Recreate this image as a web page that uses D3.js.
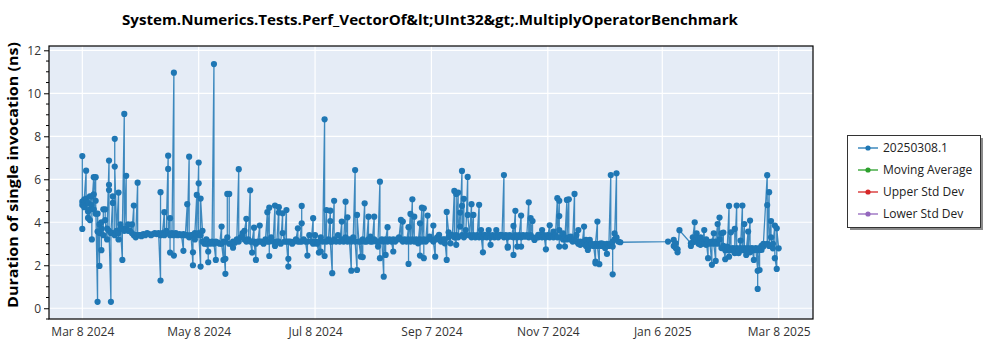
<!DOCTYPE html>
<html>
<head>
<meta charset="utf-8">
<script src="https://cdn.jsdelivr.net/npm/d3@7"></script>
<style>
  html, body { margin: 0; padding: 0; background: #ffffff; }
  svg { display: block; }
  text { font-family: "Open Sans", "Noto Sans", sans-serif; }
</style>
</head>
<body>
<div id="chart"></div>
<script>
// ---------------- data ----------------
const chartTitle = "System.Numerics.Tests.Perf_VectorOf&lt;UInt32&gt;.MultiplyOperatorBenchmark";
const yAxisTitle = "Duration of single invocation (ns)";
const legendLabels = ["20250308.1", "Moving Average", "Upper Std Dev", "Lower Std Dev"];
const legendColors = ["#1f77b4", "#2ca02c", "#d62728", "#9467bd"];
const xTickDates = ["2024-03-08", "2024-05-08", "2024-07-08", "2024-09-07", "2024-11-07", "2025-01-06", "2025-03-08"];
const yTickValues = [0, 2, 4, 6, 8, 10, 12];

// run dates (one entry per day with runs) and the durations measured that day (ns)
const runDates = [
  // Mar 2024
  "2024-03-08","2024-03-09","2024-03-10","2024-03-11","2024-03-12","2024-03-13","2024-03-14","2024-03-15",
  "2024-03-16","2024-03-17","2024-03-18","2024-03-19","2024-03-20","2024-03-21","2024-03-22","2024-03-23",
  "2024-03-24","2024-03-25","2024-03-26","2024-03-27","2024-03-28","2024-03-29","2024-03-30","2024-03-31",
  // Apr 2024
  "2024-04-01","2024-04-02","2024-04-03","2024-04-04","2024-04-05","2024-04-06","2024-04-07","2024-04-08",
  "2024-04-09","2024-04-10","2024-04-11","2024-04-12","2024-04-13","2024-04-14","2024-04-15","2024-04-16",
  "2024-04-17","2024-04-18","2024-04-19","2024-04-20","2024-04-21","2024-04-22","2024-04-23","2024-04-24",
  "2024-04-25","2024-04-26","2024-04-27","2024-04-28","2024-04-29","2024-04-30",
  // May 2024
  "2024-05-01","2024-05-02","2024-05-03","2024-05-04","2024-05-05","2024-05-06","2024-05-07","2024-05-08",
  "2024-05-09","2024-05-10","2024-05-11","2024-05-12","2024-05-13","2024-05-14","2024-05-15","2024-05-16",
  "2024-05-17","2024-05-18","2024-05-19","2024-05-20","2024-05-21","2024-05-22","2024-05-23","2024-05-24",
  "2024-05-25","2024-05-26","2024-05-27","2024-05-28","2024-05-29","2024-05-30","2024-05-31",
  // Jun 2024
  "2024-06-01","2024-06-02","2024-06-03","2024-06-04","2024-06-05","2024-06-06","2024-06-07","2024-06-08",
  "2024-06-09","2024-06-10","2024-06-11","2024-06-12","2024-06-13","2024-06-14","2024-06-15","2024-06-16",
  "2024-06-17","2024-06-18","2024-06-19","2024-06-20","2024-06-21","2024-06-22","2024-06-23","2024-06-24",
  "2024-06-25","2024-06-26","2024-06-27","2024-06-28","2024-06-29","2024-06-30",
  // Jul 2024
  "2024-07-01","2024-07-02","2024-07-03","2024-07-04","2024-07-05","2024-07-06","2024-07-07","2024-07-08",
  "2024-07-09","2024-07-10","2024-07-11","2024-07-12","2024-07-13","2024-07-14","2024-07-15","2024-07-16",
  "2024-07-17","2024-07-18","2024-07-19","2024-07-20","2024-07-21","2024-07-22","2024-07-23","2024-07-24",
  "2024-07-25","2024-07-26","2024-07-27","2024-07-28","2024-07-29","2024-07-30","2024-07-31",
  // Aug 2024
  "2024-08-01","2024-08-02","2024-08-03","2024-08-04","2024-08-05","2024-08-06","2024-08-07","2024-08-08",
  "2024-08-09","2024-08-10","2024-08-11","2024-08-12","2024-08-13","2024-08-14","2024-08-15","2024-08-16",
  "2024-08-17","2024-08-18","2024-08-19","2024-08-20","2024-08-21","2024-08-22","2024-08-23","2024-08-24",
  "2024-08-25","2024-08-26","2024-08-27","2024-08-28","2024-08-29","2024-08-30","2024-08-31",
  // Sep 2024
  "2024-09-01","2024-09-02","2024-09-03","2024-09-04","2024-09-05","2024-09-06","2024-09-07","2024-09-08",
  "2024-09-09","2024-09-10","2024-09-11","2024-09-12","2024-09-13","2024-09-14","2024-09-15","2024-09-16",
  "2024-09-17","2024-09-18","2024-09-19","2024-09-20","2024-09-21","2024-09-22","2024-09-23","2024-09-24",
  "2024-09-25","2024-09-26","2024-09-27","2024-09-28","2024-09-29","2024-09-30",
  // Oct 2024
  "2024-10-01","2024-10-02","2024-10-03","2024-10-04","2024-10-05","2024-10-06","2024-10-07","2024-10-08",
  "2024-10-09","2024-10-10","2024-10-11","2024-10-12","2024-10-13","2024-10-14","2024-10-15","2024-10-16",
  "2024-10-17","2024-10-18","2024-10-19","2024-10-20","2024-10-21","2024-10-22","2024-10-23","2024-10-24",
  "2024-10-25","2024-10-26","2024-10-27","2024-10-28","2024-10-29","2024-10-30","2024-10-31",
  // Nov 2024
  "2024-11-01","2024-11-02","2024-11-03","2024-11-04","2024-11-05","2024-11-06","2024-11-07","2024-11-08",
  "2024-11-09","2024-11-10","2024-11-11","2024-11-12","2024-11-13","2024-11-14","2024-11-15","2024-11-16",
  "2024-11-17","2024-11-18","2024-11-19","2024-11-20","2024-11-21","2024-11-22","2024-11-23","2024-11-24",
  "2024-11-25","2024-11-26","2024-11-27","2024-11-28","2024-11-29","2024-11-30",
  // Dec 2024
  "2024-12-01","2024-12-02","2024-12-03","2024-12-04","2024-12-05","2024-12-06","2024-12-07","2024-12-08",
  "2024-12-09","2024-12-10","2024-12-11","2024-12-12","2024-12-13","2024-12-14","2024-12-15",
  // Jan 2025
  "2025-01-09","2025-01-12","2025-01-13","2025-01-14","2025-01-15","2025-01-21","2025-01-22","2025-01-23",
  "2025-01-24","2025-01-25","2025-01-26","2025-01-27","2025-01-28","2025-01-29","2025-01-30","2025-01-31",
  // Feb 2025
  "2025-02-01","2025-02-02","2025-02-03","2025-02-04","2025-02-05","2025-02-06","2025-02-07","2025-02-08",
  "2025-02-09","2025-02-10","2025-02-11","2025-02-12","2025-02-13","2025-02-14","2025-02-15","2025-02-16",
  "2025-02-17","2025-02-18","2025-02-19","2025-02-20","2025-02-21","2025-02-22","2025-02-23","2025-02-24",
  "2025-02-25","2025-02-26","2025-02-27","2025-02-28",
  // Mar 2025
  "2025-03-02","2025-03-03","2025-03-04","2025-03-05","2025-03-06","2025-03-07","2025-03-08"
];

const runValues = [
  // Mar 2024
  [7.08,4.96,3.69,4.80],[4.70,5.05],[6.40,4.90,5.10],[4.20,4.90,4.50],[4.10,5.20,4.60],[5.20,3.20,4.80],[6.10,4.60,5.30],[6.10,4.40,5.00],
  [0.30,3.57,4.40],[1.97,3.90,3.50],[3.70,2.70,4.00],[3.40,4.60],[4.60,4.10],[3.20,3.70],[6.87,5.74,5.50,3.60],[0.30,3.50],
  [5.20,4.90,3.50],[3.40,7.88,6.59],[3.60],[5.38,3.20,3.50],[3.90,3.70],[2.25,3.70],[9.04,3.60],[6.16,3.70],
  // Apr 2024
  [3.60,3.90],[3.60],[3.90,3.50],[4.78,3.40],[3.40,3.30],[5.84,3.40],[3.40],[3.40,3.35],
  [3.45],[3.40],[3.50],[3.45],[3.40],[3.45],[3.50],[3.45],
  [3.50],[1.29,5.40,3.40],[3.50],[4.47,3.40],[3.60],[7.10,6.48,3.50],[4.19,2.59,3.40],[3.50],
  [10.96,2.45,3.40],[3.50],[3.40],[3.45],[3.40],[2.67,3.45],
  // May 2024
  [3.40],[4.84,3.40],[7.05,3.30],[3.40],[2.00,2.60,3.40],[3.20,3.50],[5.27,3.40],[6.78,5.81,3.50],
  [1.94,3.40,5.10],[3.60,3.10],[3.00,3.10],[3.20,3.00],[2.64,2.14,3.10],[3.05,3.00],[3.10],[11.36,3.00],
  [2.25,3.10],[3.05],[3.00],[3.80,3.00],[2.25,3.10],[1.60,2.30,3.10],[3.30,5.32],[5.32,3.00],
  [3.00],[2.82,3.10],[3.05],[3.20],[6.47,3.10],[3.30],[3.50,3.40],
  // Jun 2024
  [3.20,3.60],[4.16,3.10],[3.20],[5.49,3.10],[2.59,3.10],[3.75,3.10],[2.25,3.00],[3.10],
  [3.85,3.10],[3.10],[3.00],[3.20],[4.47,3.10],[4.68,2.43,3.10],[3.30],[3.10],
  [4.78,2.90],[3.10],[4.70,4.45,3.10],[3.00],[4.42,3.50],[3.10],[4.57,3.10],[1.94,2.30,3.10],
  [3.10],[3.00],[3.10],[3.20],[3.72,3.10],[3.10],
  // Jul 2024
  [3.95,4.76,3.10],[3.20],[3.10],[2.45,3.10],[3.40],[3.10],[4.19,3.00],[3.10,3.40],
  [3.00],[2.59,3.10],[2.64,3.30],[3.10],[8.79,2.43],[4.57,3.10],[3.20],[4.54,4.06,3.10],
  [1.63,3.10],[5.00,3.20],[3.10],[3.40],[3.10],[4.03,3.20],[3.10],[4.96,3.30],
  [4.23,3.10],[3.20],[1.75,3.10],[3.30],[6.43,3.10],[1.78,4.34],[3.10],
  // Aug 2024
  [2.40,3.10],[2.38,3.20],[4.88,3.10],[3.10],[4.26,3.20],[3.33,3.10],[3.10],[4.26,3.20],
  [3.10],[2.87,3.10],[5.89,2.33,3.10],[3.20],[1.47,3.10],[2.48,3.20],[3.77,3.10],[3.20],
  [3.10],[2.64,3.20],[3.10],[3.20],[3.30],[4.11,3.20],[4.03,3.10],[3.20],
  [3.10],[3.77,2.06,3.20],[4.39,3.10],[5.07,3.20],[4.26,3.10],[3.20],[3.02],
  // Sep 2024
  [3.95,2.45,3.20],[4.68,3.10],[4.65,2.33,3.20],[3.10],[4.31,3.20],[3.33],[3.20],[3.85,3.10],
  [2.40,3.20],[3.30],[3.41,3.20],[3.10],[3.20],[3.02,3.20],[2.25,4.48],[3.53,3.30],
  [3.02,3.40],[3.40],[5.46,3.30],[2.95,5.32,3.40],[5.38,3.30],[4.45,3.80],[6.39,4.76,3.40],[5.09,3.30],
  [3.64,3.40],[6.11,4.34],[3.40],[4.84,3.30],[4.34,3.40],[3.30],
  // Oct 2024
  [3.40],[4.81,3.30],[3.64,3.40],[2.60,3.30],[3.41],[3.30],[3.64,3.40],[2.95,3.30],
  [3.40],[3.30],[3.64,3.40],[3.30],[3.41],[3.40],[6.20,3.30],[3.40],
  [2.82,2.87,3.30],[3.40],[3.33],[3.83,2.48,3.30],[4.53,3.40],[2.87,3.30],[3.40],[4.31,2.87,3.30],
  [3.40],[3.33],[3.40],[4.93,3.30],[4.19,3.40],[4.06,3.30],[3.18],
  // Nov 2024
  [3.30],[3.41,3.30],[3.40],[3.64,3.30],[3.40],[2.74,3.30],[3.40],[3.86,3.30],
  [3.40],[3.57,3.30],[3.40],[5.12,3.30],[5.00,4.29,2.87,3.64],[3.30],[3.48,3.20],[2.87,3.30],
  [5.04,3.20],[5.07,3.30],[3.33,3.20],[3.10],[5.32,3.20],[3.41,3.10],[3.64,3.00],[2.95,3.10],
  [3.00],[3.80,3.10],[3.18,2.90],[2.71,3.00],[3.18,2.90],[3.00],
  // Dec 2024
  [2.90],[2.17,2.09,3.00],[4.03,2.90],[2.05,3.00],[3.02,2.90],[3.00],[2.80],[2.53,3.00],
  [2.90],[6.20,3.00],[2.87,1.58,3.10],[3.48,3.20],[6.28,3.30],[3.10],[3.07],
  // Jan 2025
  [3.10],[3.18,2.90],[3.02,2.80],[2.74,2.60],[3.63],[3.02,2.90],[3.07,3.30],[4.00,3.10],
  [3.49,3.20],[3.26,3.00],[2.95,3.30],[3.10],[3.64,3.00],[2.95,3.20],[2.33,3.10],[3.00],
  // Feb 2025
  [2.02,3.10],[3.49,3.00],[2.20,3.10],[3.92,3.00],[4.22,3.20],[3.49,2.80],[3.52,2.90],[2.28,2.70],
  [2.87,2.70],[4.76,2.40,2.80],[3.53,2.70],[2.80],[2.56,3.69,2.70],[4.78,2.80],[2.56,2.70],[3.15,2.80],
  [4.78,2.70],[3.92,2.80],[2.48,2.70],[3.57,2.80],[4.08,2.60],[2.71,2.80],[2.25,2.70],[2.74,2.80],
  [1.74,0.90,2.70],[1.78,2.80],[2.71,2.90],[2.87,3.00],
  // Mar 2025
  [6.19,4.80,3.00],[5.40,2.90],[4.06,3.30],[2.79,3.00],[3.85,2.33],[1.83,3.72],[2.79]
];

// ---------------- chart ----------------
const W = 1000, H = 350;
const plot = { left: 49, right: 813, top: 46, bottom: 319 };
const parseDate = d3.timeParse("%Y-%m-%d");

const points = [];
runDates.forEach((ds, i) => {
  const d = parseDate(ds);
  (runValues[i] || []).forEach(v => points.push({ date: d, value: v }));
});

const svg = d3.select("#chart").append("svg").attr("width", W).attr("height", H);

const x = d3.scaleTime()
  .domain([new Date(2024, 1, 19, 13), new Date(2025, 2, 26, 0)])
  .range([plot.left, plot.right]);
const y = d3.scaleLinear()
  .domain([-0.5, 12.2])
  .range([plot.bottom, plot.top]);

// background
svg.append("rect")
  .attr("x", plot.left).attr("y", plot.top)
  .attr("width", plot.right - plot.left).attr("height", plot.bottom - plot.top)
  .attr("fill", "#E5ECF6");

const xTicks = xTickDates.map(parseDate);

// gridlines
svg.append("g").selectAll("line").data(yTickValues).join("line")
  .attr("x1", plot.left).attr("x2", plot.right)
  .attr("y1", d => y(d)).attr("y2", d => y(d))
  .attr("stroke", "#ffffff").attr("stroke-width", 1.2);
svg.append("g").selectAll("line").data(xTicks).join("line")
  .attr("x1", d => x(d)).attr("x2", d => x(d))
  .attr("y1", plot.top).attr("y2", plot.bottom)
  .attr("stroke", "#ffffff").attr("stroke-width", 1.2);

// data
const clipId = "plotclip";
svg.append("clipPath").attr("id", clipId).append("rect")
  .attr("x", plot.left).attr("y", plot.top)
  .attr("width", plot.right - plot.left).attr("height", plot.bottom - plot.top);
const g = svg.append("g").attr("clip-path", `url(#${clipId})`);

const line = d3.line().x(d => x(d.date)).y(d => y(d.value));
g.append("path").datum(points)
  .attr("d", line)
  .attr("fill", "none")
  .attr("stroke", legendColors[0])
  .attr("stroke-width", 1.3)
  .attr("stroke-opacity", 0.85);
g.append("g").selectAll("circle").data(points).join("circle")
  .attr("cx", d => x(d.date)).attr("cy", d => y(d.value))
  .attr("r", 3.1)
  .attr("fill", legendColors[0]);

// axes
const yAxis = d3.axisLeft(y).tickValues(yTickValues).tickSize(5).tickPadding(3).tickFormat(d3.format("d"));
const yAx = svg.append("g").attr("transform", `translate(${plot.left},0)`).call(yAxis);
yAx.select(".domain").remove();
yAx.selectAll("line").attr("stroke", "#000");
yAx.selectAll("text").attr("font-size", 12).attr("fill", "#333").style("font-family", "'Open Sans', sans-serif");

// minor y ticks
const minorY = d3.range(-0.5, 12.01, 0.5).filter(v => Math.abs(v % 2) > 1e-9);
svg.append("g").selectAll("line").data(minorY).join("line")
  .attr("x1", plot.left - 3).attr("x2", plot.left)
  .attr("y1", d => y(d)).attr("y2", d => y(d))
  .attr("stroke", "#000").attr("stroke-width", 1);

const xAxis = d3.axisBottom(x).tickValues(xTicks).tickSize(0).tickPadding(8).tickFormat(d3.timeFormat("%b %-d %Y"));
const xAx = svg.append("g").attr("transform", `translate(0,${plot.bottom})`).call(xAxis);
xAx.select(".domain").remove();
xAx.selectAll("text").attr("font-size", 12).attr("fill", "#333").style("font-family", "'Open Sans', sans-serif");

// frame
svg.append("rect")
  .attr("x", plot.left).attr("y", plot.top)
  .attr("width", plot.right - plot.left).attr("height", plot.bottom - plot.top)
  .attr("fill", "none").attr("stroke", "#000").attr("stroke-width", 1.2);

// title
svg.append("text")
  .attr("x", 430).attr("y", 25)
  .attr("text-anchor", "middle")
  .attr("font-size", 15).attr("font-weight", "bold").attr("fill", "#000")
  .attr("textLength", 616).attr("lengthAdjust", "spacingAndGlyphs")
  .text(chartTitle);

// y axis title
svg.append("text")
  .attr("transform", `translate(18,${(42 + 308) / 2}) rotate(-90)`)
  .attr("text-anchor", "middle")
  .attr("font-size", 15).attr("font-weight", "bold").attr("fill", "#000")
  .attr("textLength", 266).attr("lengthAdjust", "spacingAndGlyphs")
  .text(yAxisTitle);

// legend
const lg = svg.append("g");
lg.append("rect").attr("x", 850).attr("y", 138).attr("width", 133).attr("height", 92).attr("fill", "#8a8a8a");
lg.append("rect").attr("x", 847.5).attr("y", 135.5).attr("width", 133).attr("height", 92)
  .attr("fill", "#ffffff").attr("stroke", "#333").attr("stroke-width", 1);
const rowY = [148, 170, 192, 214];
legendLabels.forEach((lab, i) => {
  lg.append("line").attr("x1", 858).attr("x2", 878).attr("y1", rowY[i]).attr("y2", rowY[i])
    .attr("stroke", legendColors[i]).attr("stroke-width", 1.3);
  lg.append("circle").attr("cx", 868).attr("cy", rowY[i]).attr("r", 2.6).attr("fill", legendColors[i]);
  lg.append("text").attr("x", 883).attr("y", rowY[i] + 4)
    .attr("font-size", 12).attr("fill", "#222").style("font-family", "'Open Sans', sans-serif")
    .text(lab);
});
</script>
</body>
</html>
